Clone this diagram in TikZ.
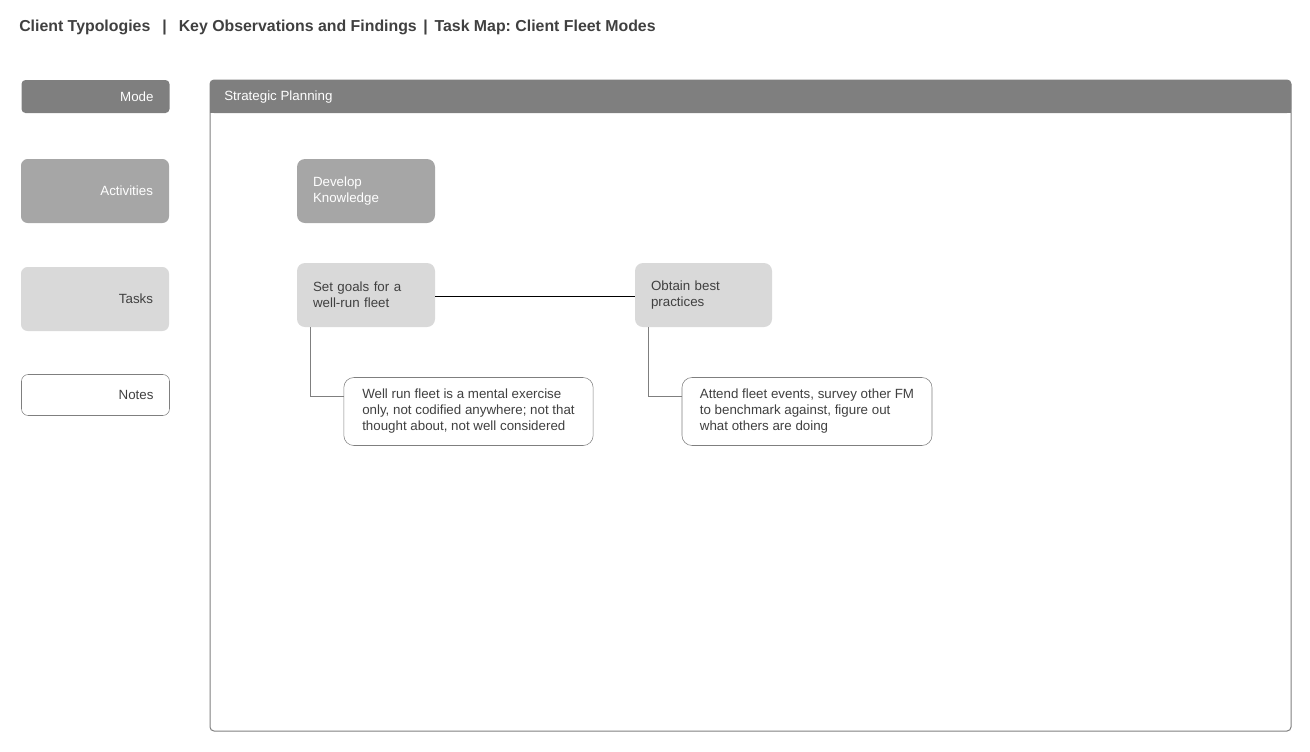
\documentclass[tikz,border=0pt]{standalone}
\usepackage{xcolor}
\usepackage{fontspec}
\setmainfont{Liberation Sans}
\usepackage{tikz}
\definecolor{headgray}{HTML}{7F7F7F}
\definecolor{actgray}{HTML}{A6A6A6}
\definecolor{taskgray}{HTML}{D9D9D9}
\definecolor{inkgray}{HTML}{404040}
\frenchspacing
\begin{document}
\begin{tikzpicture}[x=0.75pt, y=-0.75pt,
  every node/.style={font=\fontsize{10}{12}\selectfont},
  rowlabel/.style={rounded corners=5pt, minimum width=111pt, text width=87pt, inner xsep=12pt, align=right},
  taskbox/.style={rounded corners=6pt, minimum width=103.5pt, minimum height=48pt, text width=79.5pt, inner xsep=12pt, align=left, fill=taskgray, text=inkgray},
  notebox/.style={rounded corners=7.5pt, minimum width=187pt, minimum height=51pt, align=left, draw=headgray, fill=white, text=inkgray},
  notelink/.style={draw=headgray, line width=0.6pt}]
\useasboundingbox (0,0) rectangle (1310,751);
\node[anchor=west, inner sep=0pt, text=inkgray, font=\fontsize{11.9}{14}\selectfont\bfseries] (title) at (19,28)
  {Client Typologies\hspace{9pt}|\hspace{9pt}Key Observations and Findings\hspace{5pt}|\hspace{5pt}Task Map: Client Fleet Modes};
\node[rowlabel, fill=headgray, text=white, minimum height=24.75pt, rounded corners=3pt] (mode) at (95.5,96.5) {Mode};
\node[rowlabel, fill=actgray, text=white, minimum height=48pt, minimum width=111pt] (activities) at (95,191) {Activities};
\node[rowlabel, fill=taskgray, text=inkgray, minimum height=48pt, minimum width=111pt] (tasks) at (95,299) {Tasks};
\node[rowlabel, draw=headgray, fill=white, text=inkgray, minimum height=30.75pt] (notes) at (95.5,395) {Notes};
\draw[headgray, line width=0.75pt, rounded corners=3pt] (210,80) rectangle (1291,731);
\fill[headgray, rounded corners=3pt] (210,80) rectangle (1291,113);
\fill[headgray] (210,97) rectangle (1291,113);
\node[anchor=west, inner sep=0pt, text=white] (stratplan) at (224,97) {Strategic Planning};
\node[taskbox, fill=actgray, text=white] (develop) at (366,191) {Develop\\Knowledge};
\node[taskbox] (setgoals) at (366,295) {Set goals for a\\well-run fleet};
\node[taskbox, minimum width=102.75pt, text width=78.75pt] (obtain) at (703.5,295) {Obtain best\\practices};
\node[notebox] (wellrun) at (468.5,411.5) {Well run fleet is a mental exercise\\only, not codified anywhere; not that\\thought about, not well considered};
\node[notebox, minimum width=187.5pt] (attend) at (807,411.5) {Attend fleet events, survey other FM\\to benchmark against, figure out\\what others are doing};
\draw[line width=0.75pt] ([yshift=-0.75pt]setgoals.east) -- ([yshift=-0.75pt]obtain.west);
\draw[notelink] ([xshift=10.5pt]setgoals.south west) |- ([yshift=11.6pt]wellrun.west);
\draw[notelink] ([xshift=10.5pt]obtain.south west) |- ([yshift=11.6pt]attend.west);
\end{tikzpicture}
\end{document}
